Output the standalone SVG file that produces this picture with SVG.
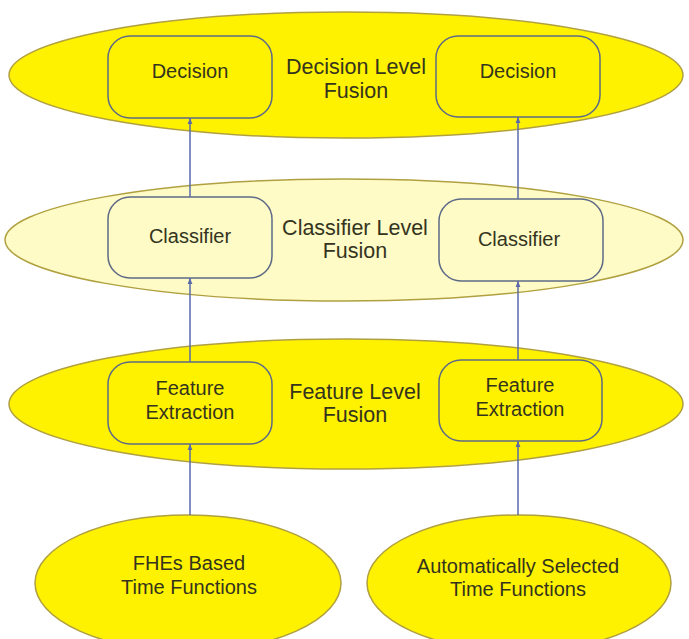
<svg xmlns="http://www.w3.org/2000/svg" width="689" height="639" viewBox="0 0 689 639">
<defs>
<marker id="ah" viewBox="0 0 10 10" refX="10" refY="5" markerWidth="6" markerHeight="6" orient="auto" markerUnits="userSpaceOnUse">
<path d="M0,1 L10,5 L0,9 z" fill="#5a6aa8"/>
</marker>
<style>
.lvl{stroke:#b0a040;stroke-width:1.5}
.y{fill:#fff200}
.p{fill:#fefbc6}
.box{stroke:#5e6a86;stroke-width:1.5}
text{font-family:"Liberation Sans",Arial,sans-serif;font-size:20px;fill:#34341e;text-anchor:middle}
.L{font-size:21.5px}
.c{stroke:#5a6aa8;stroke-width:1.5;fill:none;marker-end:url(#ah)}
</style>
</defs>
<rect width="689" height="639" fill="#ffffff"/>
<g id="decision-level">
<ellipse class="lvl y" cx="346" cy="75" rx="337" ry="63"/>
<text class="L" x="356" y="74">Decision Level</text>
<text class="L" x="356" y="98">Fusion</text>
</g>
<g id="classifier-level">
<ellipse class="lvl p" cx="344" cy="240" rx="339" ry="61"/>
<text class="L" x="355" y="235">Classifier Level</text>
<text class="L" x="355" y="258">Fusion</text>
</g>
<g id="feature-level">
<ellipse class="lvl y" cx="346" cy="404" rx="337" ry="65"/>
<text class="L" x="355" y="399">Feature Level</text>
<text class="L" x="355" y="422">Fusion</text>
</g>
<g id="decision1"><rect class="box y" x="108" y="36" width="164" height="82" rx="22"/><text x="190" y="78">Decision</text></g>
<g id="decision2"><rect class="box y" x="436" y="36" width="164" height="81" rx="22"/><text x="518" y="78">Decision</text></g>
<g id="classifier1"><rect class="box p" x="108" y="197" width="164" height="81" rx="22"/><text x="190" y="243">Classifier</text></g>
<g id="classifier2"><rect class="box p" x="439" y="199" width="164" height="82" rx="22"/><text x="519" y="246">Classifier</text></g>
<g id="feature1"><rect class="box y" x="108" y="362" width="164" height="82" rx="22"/><text x="190" y="395">Feature</text><text x="190" y="419">Extraction</text></g>
<g id="feature2"><rect class="box y" x="439" y="360" width="163" height="81" rx="22"/><text x="520" y="392">Feature</text><text x="520" y="416">Extraction</text></g>
<g id="fhe"><ellipse class="lvl y" cx="188" cy="583" rx="153" ry="68"/><text x="189" y="570">FHEs Based</text><text x="189" y="594">Time Functions</text></g>
<g id="auto"><ellipse class="lvl y" cx="519" cy="583" rx="152" ry="68"/><text x="518" y="573">Automatically Selected</text><text x="518" y="596">Time Functions</text></g>
<g id="connectors">
<line class="c" x1="190" y1="515" x2="190" y2="444"/>
<line class="c" x1="190" y1="362" x2="190" y2="278"/>
<line class="c" x1="190" y1="197" x2="190" y2="118"/>
<line class="c" x1="518" y1="515" x2="518" y2="441"/>
<line class="c" x1="518" y1="360" x2="518" y2="281"/>
<line class="c" x1="518" y1="199" x2="518" y2="117"/>
</g>
</svg>
